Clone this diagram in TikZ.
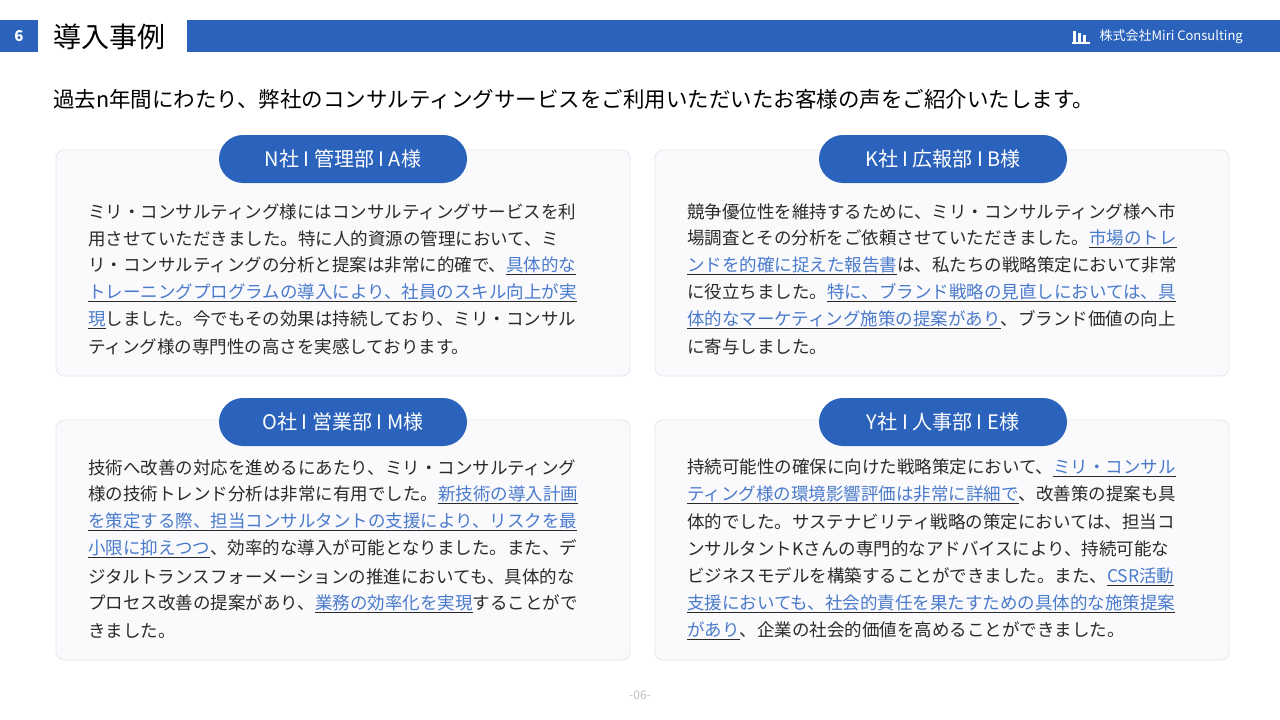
\documentclass[tikz,border=0pt]{standalone}
\usepackage{fontspec}
\setmainfont{Noto Sans CJK JP}
\definecolor{hblue}{HTML}{2A62BC}
\definecolor{lk}{HTML}{4A7ACB}
\definecolor{txt}{HTML}{2A2A2A}
\definecolor{cardb}{HTML}{E6E7EE}
\definecolor{cardf}{HTML}{FAFAFD}
\newcommand{\lkt}[1]{\underline{\textcolor{lk}{#1}}}
\tikzset{
 card/.style={draw=cardb,fill=cardf,rounded corners=8pt,line width=0.8pt},
 pill/.style={fill=hblue,rounded corners=24pt,minimum width=248pt,minimum height=48pt,text=white,font=\fontsize{20}{24}\selectfont,inner sep=0pt},
 ln/.style={anchor=west,inner sep=0pt,text=txt,font=\fontsize{17.5}{20}\selectfont}
}
\begin{document}
\begin{tikzpicture}[x=1pt,y=-1pt]
\useasboundingbox (0,0) rectangle (1280,720);
\fill[white] (0,0) rectangle (1280,720);
% header
\fill[hblue] (0,20) rectangle (38,52);
\node[text=white,font=\bfseries\fontsize{15}{18}\selectfont] (num) at (19,36) {6};
\node[anchor=west,inner sep=0pt,font=\fontsize{28}{32}\selectfont,text=black] (title) at (53,37) {導入事例};
\fill[hblue] (187,20) rectangle (1280,52);
\node[anchor=east,inner sep=0pt,text=white,font=\fontsize{13}{16}\selectfont] (co) at (1243,37) {株式会社Miri Consulting};
\begin{scope}[white]
\fill (1073,31) rectangle (1076,43);
\fill (1078,33) rectangle (1081,43);
\fill (1083,35) rectangle (1086,43);
\fill (1072,42) rectangle (1090,44);
\end{scope}
\node[anchor=west,inner sep=0pt,text=black,font=\fontsize{21.5}{26}\selectfont] (sub) at (53,99) {過去n年間にわたり、弊社のコンサルティングサービスをご利用いただいたお客様の声をご紹介いたします。};
% cards
\draw[card] (56,150) rectangle (630,376);
\draw[card] (655,150) rectangle (1229,376);
\draw[card] (56,420) rectangle (630,660);
\draw[card] (655,420) rectangle (1229,660);
\node[pill] (p1) at (343,159) {N社 I 管理部 I A様};
\node[pill] (p2) at (943,159) {K社 I 広報部 I B様};
\node[pill] (p3) at (343,422) {O社 I 営業部 I M様};
\node[pill] (p4) at (943,422) {Y社 I 人事部 I E様};
% card 1
\node[ln] (a1) at (88,212) {ミリ・コンサルティング様にはコンサルティングサービスを利};
\node[ln] (a2) at (88,239) {用させていただきました。特に人的資源の管理において、ミ};
\node[ln] (a3) at (88,266) {リ・コンサルティングの分析と提案は非常に的確で、\lkt{具体的な}};
\node[ln] (a4) at (88,293) {\lkt{トレーニングプログラムの導入により、社員のスキル向上が実}};
\node[ln] (a5) at (88,320) {\lkt{現}しました。今でもその効果は持続しており、ミリ・コンサル};
\node[ln] (a6) at (88,347) {ティング様の専門性の高さを実感しております。};
% card 2
\node[ln] (b1) at (687,212) {競争優位性を維持するために、ミリ・コンサルティング様へ市};
\node[ln] (b2) at (687,239) {場調査とその分析をご依頼させていただきました。\lkt{市場のトレ}};
\node[ln] (b3) at (687,266) {\lkt{ンドを的確に捉えた報告書}は、私たちの戦略策定において非常};
\node[ln] (b4) at (687,293) {に役立ちました。\lkt{特に、ブランド戦略の見直しにおいては、具}};
\node[ln] (b5) at (687,320) {\lkt{体的なマーケティング施策の提案があり}、ブランド価値の向上};
\node[ln] (b6) at (687,347) {に寄与しました。};
% card 3
\node[ln] (c1) at (88,468) {技術へ改善の対応を進めるにあたり、ミリ・コンサルティング};
\node[ln] (c2) at (88,495) {様の技術トレンド分析は非常に有用でした。\lkt{新技術の導入計画}};
\node[ln] (c3) at (88,522) {\lkt{を策定する際、担当コンサルタントの支援により、リスクを最}};
\node[ln] (c4) at (88,549) {\lkt{小限に抑えつつ}、効率的な導入が可能となりました。また、デ};
\node[ln] (c5) at (88,577) {ジタルトランスフォーメーションの推進においても、具体的な};
\node[ln] (c6) at (88,604) {プロセス改善の提案があり、\lkt{業務の効率化を実現}することがで};
\node[ln] (c7) at (88,631) {きました。};
% card 4
\node[ln] (d1) at (687,468) {持続可能性の確保に向けた戦略策定において、\lkt{ミリ・コンサル}};
\node[ln] (d2) at (687,495) {\lkt{ティング様の環境影響評価は非常に詳細で}、改善策の提案も具};
\node[ln] (d3) at (687,522) {体的でした。サステナビリティ戦略の策定においては、担当コ};
\node[ln] (d4) at (687,549) {ンサルタントKさんの専門的なアドバイスにより、持続可能な};
\node[ln] (d5) at (687,577) {ビジネスモデルを構築することができました。また、\lkt{CSR活動}};
\node[ln] (d6) at (687,604) {\lkt{支援においても、社会的責任を果たすための具体的な施策提案}};
\node[ln] (d7) at (687,631) {\lkt{があり}、企業の社会的価値を高めることができました。};
\node[text=black!25,font=\fontsize{12}{14}\selectfont] (pg) at (640,695) {-06-};
\end{tikzpicture}
\end{document}
